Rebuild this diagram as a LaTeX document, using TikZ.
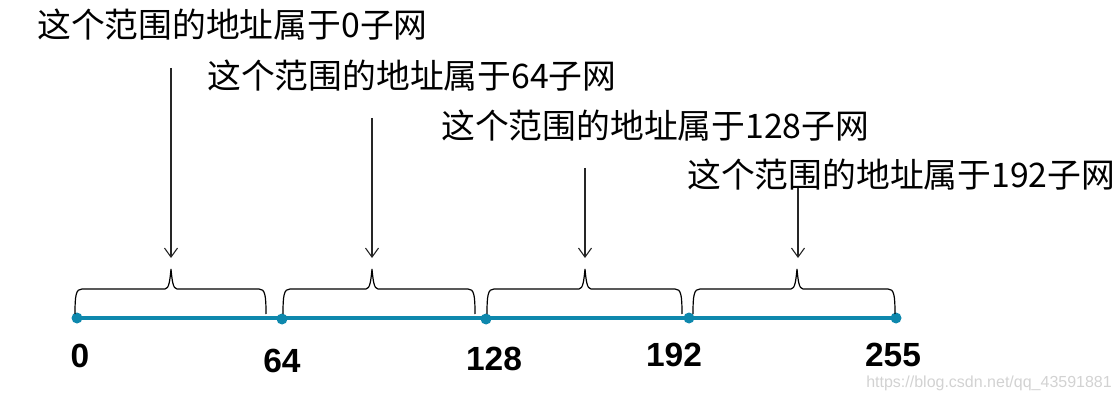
\documentclass[tikz,border=0pt]{standalone}
\usepackage{fontspec}
\setmainfont{Liberation Sans}
\newfontfamily\cjk{Noto Sans CJK SC}
\usetikzlibrary{arrows.meta}
\definecolor{axisblue}{HTML}{0E88AD}
\definecolor{wmgray}{HTML}{D2D2D2}
\tikzset{
  rangelabel/.style={anchor=west,inner sep=0pt,font=\cjk\fontsize{33.8}{34}\selectfont},
  numlabel/.style={anchor=center,inner sep=0pt,font=\bfseries\fontsize{33.5}{34}\selectfont},
  pointer/.style={draw=black!85,line width=1.3pt,-{Straight Barb[length=9pt,width=13pt,line width=1.1pt]}},
  bracepath/.style={draw=black,line width=1.2pt},
  axis/.style={draw=axisblue,line width=4.5pt},
  dot/.style={circle,fill=axisblue,minimum size=11pt,inner sep=0pt},
}
\begin{document}
\begin{tikzpicture}[x=1pt,y=-1pt]
\useasboundingbox (0,0) rectangle (1120,401);
% texts
\node[rangelabel] (t1) at (37,25) {这个范围的地址属于0子网};
\node[rangelabel] (t2) at (207,76) {这个范围的地址属于64子网};
\node[rangelabel] (t3) at (441,126) {这个范围的地址属于128子网};
\node[rangelabel] (t4) at (687,175) {这个范围的地址属于192子网};
% axis
\node[dot] (p0) at (77,318) {};
\node[dot] (p1) at (282,319) {};
\node[dot] (p2) at (486,319) {};
\node[dot] (p3) at (689,318) {};
\node[dot] (p4) at (896,318) {};
\draw[axis] (p0.center) -- (p4.center);
% numbers
\node[numlabel] (n0) at (80,356) {0};
\node[numlabel] (n1) at (282,361) {64};
\node[numlabel] (n2) at (494,359) {128};
\node[numlabel] (n3) at (674,355) {192};
\node[numlabel] (n4) at (893,355) {255};
% braces
\foreach \a/\b/\m in {75/266/171, 283/475/372, 487/682/585, 693/895/797}{
  \draw[bracepath] (\a,314) .. controls (\a,295) and (\a+1,289) .. (\a+7,289)
    -- (\m-6,289) .. controls (\m-2,289) and (\m-1,280) .. (\m,269)
    .. controls (\m+1,280) and (\m+2,289) .. (\m+6,289)
    -- (\b-7,289) .. controls (\b-1,289) and (\b,295) .. (\b,314);
}
% arrows
\coordinate (a1s) at (171,68);  \coordinate (a1e) at (171,258);
\coordinate (a2s) at (372,118); \coordinate (a2e) at (372,258);
\coordinate (a3s) at (585,168); \coordinate (a3e) at (585,258);
\coordinate (a4s) at (798,188); \coordinate (a4e) at (798,258);
\draw[pointer] (a1s) -- (a1e);
\draw[pointer] (a2s) -- (a2e);
\draw[pointer] (a3s) -- (a3e);
\draw[pointer] (a4s) -- (a4e);
% watermark
\node[anchor=east,inner sep=0pt,text=wmgray,font=\fontsize{16}{16}\selectfont] (wm) at (1112,383) {https://blog.csdn.net/qq\_43591881};
\end{tikzpicture}
\end{document}
